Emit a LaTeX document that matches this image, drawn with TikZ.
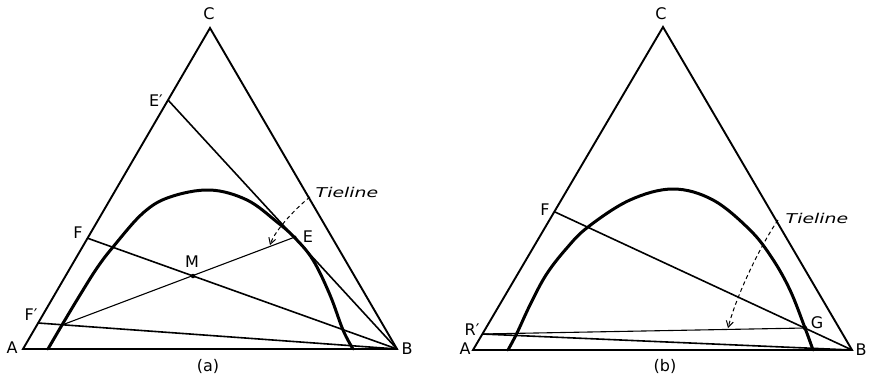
\documentclass[tikz,border=0pt]{standalone}
\usepackage{fontspec}
\usepackage{graphicx}
\setmainfont{DejaVu Sans}
\usetikzlibrary{arrows.meta}
\begin{document}
\begin{tikzpicture}[x=1pt,y=-1pt,
  tri/.style={line width=1.9pt, line join=miter},
  binodal/.style={line width=3pt, line cap=round, line join=round},
  conline/.style={line width=1.6pt},
  thinline/.style={line width=1.1pt},
  lbl/.style={font=\fontsize{16}{16}\selectfont, inner sep=0pt},
  tie/.style={font=\fontsize{13.5}{13.5}\selectfont\itshape, inner sep=0pt},
  dasharrow/.style={line width=1pt, dash pattern=on 4pt off 3pt, -{Straight Barb[length=6pt,width=7pt]}},
  dot/.style={circle, fill, inner sep=0pt, minimum size=4.5pt},
]
\useasboundingbox (0,0) rectangle (870,375);
% ---------- (a) ----------
\coordinate (A1) at (23,349);
\coordinate (B1) at (397,349);
\coordinate (C1) at (210,28);
\coordinate (Ep1) at (168,100);
\coordinate (F1) at (87,238);
\coordinate (Fp1) at (38,323);
\coordinate (R1) at (62,325);
\coordinate (E1) at (295,237);
\coordinate (T1s) at (310,197);
\coordinate (T1e) at (270,245);
\draw[tri] (A1) -- (B1) -- (C1) -- cycle;
\draw[binodal] plot[smooth, tension=0.6] coordinates {(48,349) (62,325) (80,295) (97,268) (113,247) (143,213) (170,197) (210,190) (247,200) (277,222) (295,238) (313,260) (330,295) (343,330) (353,349)};
\draw[conline] (Ep1) -- (B1);
\draw[conline] (F1) -- (B1);
\draw[conline] (Fp1) -- (B1);
\draw[thinline] (R1) -- (E1);
\node[dot] (M1) at (193,276) {};
\node[dot, minimum size=3.5pt] (Ed1) at (E1) {};
\draw[dasharrow] (T1s) .. controls (297,207) and (275,230) .. (T1e);
\node[lbl] (lC1) at (209,14) {C};
\node[lbl] (lEp1) at (156,101) {E′};
\node[lbl] (lF1) at (78,233) {F};
\node[lbl] (lFp1) at (31,315) {F′};
\node[lbl] (lA1) at (12,348) {A};
\node[lbl] (lB1) at (407,349) {B};
\node[lbl] (lM1) at (192,262) {M};
\node[lbl] (lE1) at (308,237) {E};
\node[tie] (lT1) at (347,192) {\scalebox{1.4}[1]{Tieline}};
\node[lbl] (la) at (208,366) {(a)};
% ---------- (b) ----------
\coordinate (A2) at (473,350);
\coordinate (B2) at (852,350);
\coordinate (C2) at (663,27);
\coordinate (F2) at (555,212);
\coordinate (Rp2) at (482,334);
\coordinate (G2) at (805,328);
\coordinate (T2s) at (778,220);
\coordinate (T2e) at (728,328);
\draw[tri] (A2) -- (B2) -- (C2) -- cycle;
\draw[binodal] plot[smooth, tension=0.6] coordinates {(508,350) (517,333) (530,305) (546,275) (566,249) (588,227) (630,200) (673,189) (713,200) (750,230) (772,258) (790,290) (805,328) (813,350)};
\draw[conline] (F2) -- (B2);
\draw[conline] (Rp2) -- (B2);
\draw[thinline] (Rp2) -- (G2);
\node[dot] (Gd2) at (G2) {};
\draw[dasharrow] (T2s) .. controls (764,240) and (738,290) .. (T2e);
\node[lbl] (lC2) at (661,14) {C};
\node[lbl] (lF2) at (545,210) {F};
\node[lbl] (lRp2) at (472,330) {R′};
\node[lbl] (lA2) at (465,349) {A};
\node[lbl] (lG2) at (817,323) {G};
\node[lbl] (lB2) at (861,350) {B};
\node[tie] (lT2) at (817,218) {\scalebox{1.4}[1]{Tieline}};
\node[lbl] (lb) at (665,366) {(b)};
\end{tikzpicture}
\end{document}
